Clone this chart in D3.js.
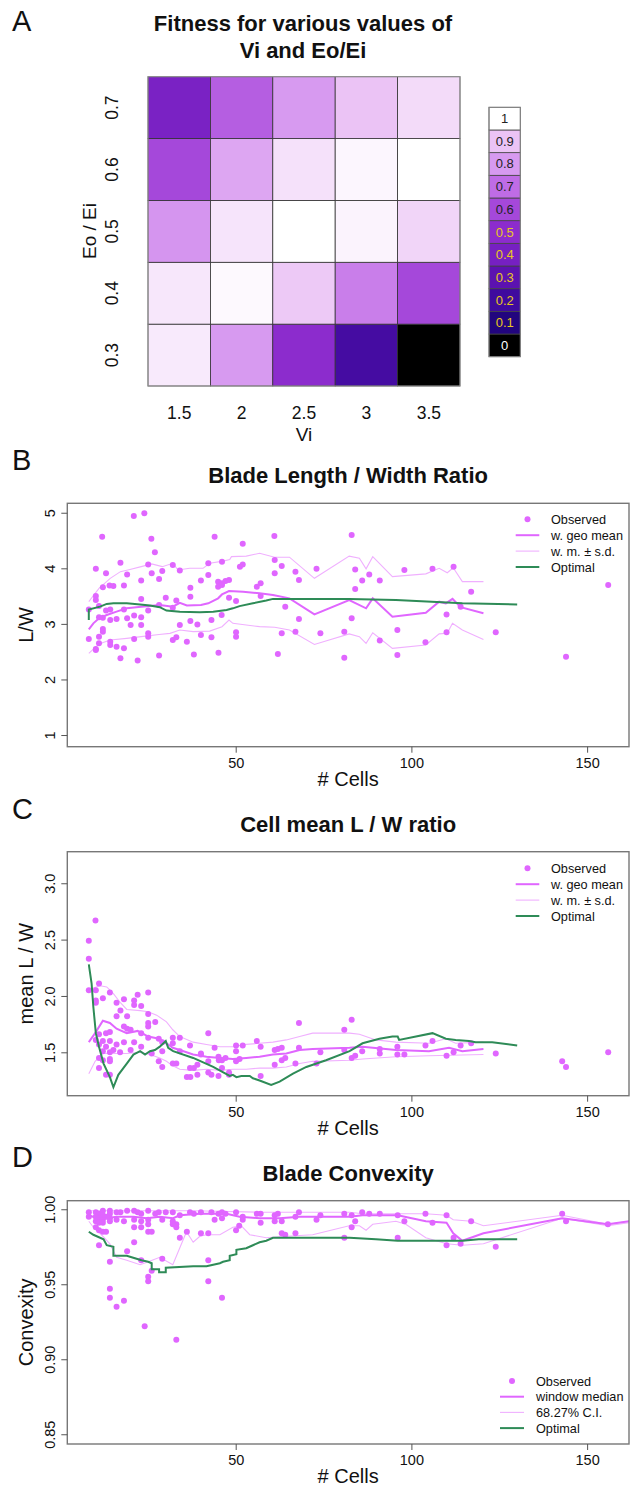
<!DOCTYPE html>
<html><head><meta charset="utf-8">
<script src="https://cdn.jsdelivr.net/npm/d3@7"></script>
<style>
body{margin:0;background:#fff}
svg{display:block}
text{font-family:"Liberation Sans",Arial,Helvetica,sans-serif;fill:#111}
</style>
</head><body>
<svg id="chart" width="630" height="1490"></svg>
<script>
// ---------------- Panel A data ----------------
const viLabels = ["1.5","2","2.5","3","3.5"];
const eoLabels = ["0.3","0.4","0.5","0.6","0.7"];
// fitness[eo index][vi index]
const fitness = [
  [0.965, 0.80, 0.50, 0.22, 0.00],   // Eo/Ei 0.3
  [0.96, 0.99, 0.91, 0.74, 0.60],    // 0.4
  [0.79, 0.955, 1.00, 0.98, 0.93],   // 0.5
  [0.60, 0.83, 0.95, 0.985, 1.00],   // 0.6
  [0.42, 0.66, 0.80, 0.90, 0.94]     // 0.7
];
const legendValues = [0,0.1,0.2,0.3,0.4,0.5,0.6,0.7,0.8,0.9,1];
const legendLabels = ["0","0.1","0.2","0.3","0.4","0.5","0.6","0.7","0.8","0.9","1"];
const legendColors = ["#000000","#22057e","#3f0a9e","#5c12b0","#7620c2","#8c2ccd","#a548da","#bf6ce6","#d79af0","#ebc3f5","#ffffff"];

// ---------------- Panel B data ----------------
const bObserved = [[21,4.94],[24,4.99],[12,4.57],[26,4.53],[44,4.57],[61,4.58],[52,4.44],[27,4.29],[17.2,4.10],[25.1,4.07],[10.2,3.99],[13.1,3.91],[19.1,3.89],[26.1,3.91],[29.1,3.95],[32.1,4.06],[34.1,3.96],[42.2,4.09],[46.1,4.12],[51.2,4.03],[52,4.07],[61.1,4.15],[63.1,4.04],[67,3.94],[73,3.99],[12.2,3.66],[14.1,3.69],[15.2,3.68],[18.2,3.69],[23.1,3.78],[28.2,3.81],[42.2,3.88],[40.1,3.78],[45,3.76],[46.1,3.73],[47.1,3.77],[48.1,3.79],[45,3.67],[46.1,3.70],[37.1,3.65],[57.1,3.73],[56,3.67],[61.1,3.91],[68,3.79],[10.2,3.50],[10.2,3.43],[23.1,3.45],[30.1,3.47],[33.1,3.42],[37.1,3.49],[57.1,3.50],[48.1,3.47],[50.1,3.41],[64.1,3.31],[8.2,3.26],[11.1,3.32],[13.1,3.24],[14.3,3.26],[18.2,3.26],[25.1,3.24],[28.2,3.34],[32.1,3.29],[46,3.16],[11.1,3.12],[12.2,3.11],[14.3,3.07],[16.1,3.09],[19.1,3.10],[21.1,3.15],[23.1,3.12],[20.1,2.98],[23.1,2.98],[34.1,2.98],[37.1,3.05],[39.1,2.99],[43.1,3.07],[68,3.09],[12.2,2.91],[12.2,2.86],[11.1,2.77],[8.2,2.73],[14.3,2.68],[14.3,2.62],[16.1,2.59],[10.2,2.55],[10.2,2.53],[11.1,2.65],[18.2,2.56],[21.1,2.73],[25.1,2.83],[25.1,2.77],[32.1,2.71],[33.1,2.76],[36.1,2.68],[40.1,2.80],[43.1,2.76],[50.1,2.85],[50.1,2.77],[63.1,2.83],[67,2.86],[74.1,2.83],[80.9,2.86],[17.2,2.38],[22.1,2.34],[28.2,2.43],[38.1,2.45],[45.1,2.48],[62,2.46],[80.9,2.39],[83,4.60],[84,3.98],[86,3.78],[88,3.89],[91,3.78],[98,3.97],[106,3.99],[112,4.03],[84,3.63],[117,3.58],[83,3.10],[114,3.31],[110,3.17],[96,2.89],[110,2.85],[91,2.70],[104,2.67],[124,2.85],[96,2.44],[144,2.41],[156,3.70]];
const bGeoMean = [[8.2,2.90],[9.5,3.01],[11.1,3.10],[13.3,3.16],[16.1,3.22],[19,3.28],[23.1,3.31],[28.4,3.34],[32.1,3.31],[34.1,3.38],[36.1,3.33],[40.1,3.34],[42.2,3.37],[45,3.46],[46.1,3.53],[48.1,3.59],[52.1,3.58],[56.8,3.55],[60.6,3.52],[65.3,3.46],[72.4,3.17],[82.3,3.43],[87.1,3.28],[89,3.46],[94.6,3.13],[104.1,3.20],[107.9,3.40],[109.8,3.37],[111.7,3.45],[114,3.30],[120.5,3.19]];
const bSdUpper = [[8.2,3.40],[11.1,3.64],[14.3,3.82],[17.2,3.94],[19.9,3.98],[23.1,4.03],[26.1,4.08],[29.1,4.03],[32.1,4.09],[33.6,3.97],[36.9,4.00],[40.7,4.00],[42.6,4.09],[46.4,4.13],[48.3,4.16],[48.8,4.21],[53,4.22],[56.8,4.27],[61.1,4.20],[65.3,4.20],[72.4,3.82],[82.3,4.22],[85.2,4.18],[87.1,3.99],[89,4.21],[94.6,3.85],[104.1,3.90],[107.9,4.00],[110.2,3.92],[111.9,4.01],[114.5,3.76],[120.5,3.76]];
const bSdLower = [[8.2,2.47],[11.1,2.64],[14.3,2.71],[19,2.74],[23.1,2.77],[28.2,2.81],[31.3,2.83],[34.1,2.89],[37.9,2.86],[42.6,2.87],[46.1,2.95],[48.1,3.07],[49.2,3.01],[53,2.98],[56.8,2.95],[61.1,2.94],[65.3,2.89],[72.4,2.63],[82.3,2.82],[85.2,2.77],[87.1,2.65],[89,2.84],[94.6,2.56],[104.1,2.62],[107.9,2.82],[110.2,2.83],[111.7,3.01],[114.5,2.89],[120.5,2.72]];
const bOptimal = [[8.2,3.07],[8.2,3.26],[11.4,3.31],[13.3,3.36],[15.2,3.37],[19,3.37],[22.8,3.35],[25.6,3.33],[28.4,3.30],[30.3,3.24],[34.1,3.22],[39.8,3.21],[43.6,3.22],[47.4,3.25],[49.2,3.28],[51.1,3.32],[54.9,3.37],[58.7,3.42],[60.6,3.45],[82.4,3.45],[95.6,3.43],[114.5,3.37],[130.1,3.35]];

// ---------------- Panel C data ----------------
const cObserved = [[10.1,2.67],[8.2,2.49],[8.2,2.33],[8.2,2.05],[11.1,2.11],[10.2,2.05],[10.2,1.96],[10.2,1.94],[12.2,1.98],[14.2,2.03],[18.2,1.97],[16.1,1.94],[22.1,2.01],[21.1,1.96],[21.1,1.92],[23.1,1.91],[25.1,2.03],[17.2,1.87],[16.1,1.82],[19.1,1.82],[18.2,1.73],[19.1,1.71],[20.1,1.70],[23.1,1.67],[25.1,1.84],[27.1,1.77],[25.1,1.76],[25.1,1.73],[11.1,1.66],[13.1,1.67],[14.2,1.68],[12.2,1.60],[14.2,1.60],[10.2,1.61],[11.1,1.57],[13.1,1.55],[15.2,1.52],[16.1,1.57],[18.2,1.59],[21.1,1.59],[25.1,1.63],[28.1,1.62],[29.1,1.59],[32.1,1.63],[34.1,1.63],[32.1,1.58],[12.2,1.51],[14.2,1.50],[17.1,1.50],[20.1,1.52],[23.1,1.55],[26.1,1.49],[29.1,1.51],[11.1,1.45],[12.2,1.43],[14.2,1.44],[14.2,1.42],[11.1,1.36],[13.1,1.30],[14.2,1.30],[28.1,1.42],[29.1,1.37],[32.1,1.40],[33.1,1.40],[37,1.56],[34.1,1.51],[40.1,1.48],[40.1,1.49],[42.2,1.67],[44,1.54],[45.1,1.46],[46.1,1.43],[47.1,1.45],[45.2,1.43],[42.2,1.42],[39.1,1.39],[37,1.36],[38.1,1.36],[36.1,1.28],[37.1,1.28],[39.1,1.30],[42.2,1.32],[43.1,1.30],[45.1,1.29],[46.1,1.36],[48.1,1.32],[48.1,1.30],[50.1,1.56],[50.1,1.51],[52,1.56],[50.1,1.42],[51.1,1.44],[56,1.60],[57.1,1.55],[57.1,1.29],[61.1,1.39],[61.1,1.52],[62,1.53],[63.1,1.54],[63.1,1.43],[64.1,1.45],[67,1.40],[68,1.54],[68,1.76],[74.1,1.50],[73,1.40],[80.9,1.70],[80.9,1.52],[83,1.79],[83,1.45],[84,1.47],[86,1.51],[91,1.53],[91,1.49],[96,1.55],[96,1.48],[98,1.48],[104,1.56],[106,1.60],[110,1.47],[112,1.50],[114,1.56],[117,1.58],[124,1.49],[142.9,1.42],[144,1.37],[156,1.50]];
const cGeoMean = [[8.2,1.59],[10,1.67],[12.2,1.78],[14.2,1.76],[16.1,1.71],[19,1.67],[22.1,1.69],[25.1,1.64],[28.2,1.62],[30.3,1.58],[32.1,1.54],[34.1,1.52],[37.9,1.48],[41.7,1.46],[45.5,1.45],[49.2,1.44],[53,1.45],[56.8,1.46],[60.6,1.48],[64.4,1.49],[68.2,1.52],[71.9,1.53],[82.4,1.54],[86.1,1.55],[95.6,1.52],[105,1.51],[110.7,1.54],[114.5,1.51],[120.5,1.53]];
const cSdUpper = [[8.2,2.04],[9.5,2.07],[11.4,2.09],[13.3,2.08],[15.2,2.02],[17.2,1.94],[19,1.88],[22.8,1.87],[25.1,1.86],[27.5,1.83],[30.3,1.77],[32.1,1.70],[34.1,1.64],[37.9,1.59],[41.7,1.57],[45.5,1.55],[49.2,1.55],[53,1.57],[56.8,1.58],[60.6,1.59],[64.4,1.61],[68.2,1.64],[71.9,1.67],[82.4,1.67],[85.2,1.66],[89.9,1.61],[95.6,1.59],[105,1.58],[109.8,1.62],[112.6,1.58],[120.5,1.59]];
const cSdLower = [[8.2,1.31],[10,1.42],[12.2,1.49],[14.2,1.49],[19,1.49],[22.8,1.50],[25.6,1.48],[28.4,1.45],[30.3,1.42],[32.1,1.38],[34.1,1.35],[37.9,1.34],[41.7,1.35],[45.5,1.34],[49.2,1.35],[53,1.35],[56.8,1.36],[60.6,1.36],[64.4,1.37],[68.2,1.40],[71.9,1.42],[82.4,1.43],[86.1,1.44],[95.6,1.46],[105,1.47],[120.5,1.48]];
const cOptimal = [[8.2,2.28],[9,2.11],[9.5,1.90],[10.2,1.67],[11.1,1.55],[12.4,1.40],[14.2,1.28],[15.2,1.19],[16.6,1.30],[19,1.40],[20.9,1.48],[22.8,1.51],[24.2,1.48],[25.6,1.51],[27,1.52],[28.4,1.55],[30.1,1.60],[30.8,1.54],[32.2,1.51],[37.9,1.45],[43.6,1.37],[48.3,1.29],[49.2,1.30],[50.2,1.28],[51.6,1.29],[54,1.29],[54.9,1.27],[56.8,1.25],[60.1,1.21],[62.5,1.24],[66.3,1.31],[70.1,1.37],[75.7,1.43],[82.4,1.51],[86.1,1.58],[90.9,1.62],[94.6,1.64],[96.1,1.64],[96.5,1.61],[101.3,1.64],[106,1.67],[109.8,1.62],[112.6,1.61],[116.4,1.60],[118.3,1.59],[123,1.59],[130.1,1.56]];

// ---------------- Panel D data ----------------
const dObserved = [[8.2,0.998],[8.2,0.995],[10.2,0.998],[11.1,0.997],[12.2,0.999],[12.2,0.996],[14.2,0.999],[14.2,0.997],[16.1,0.998],[17.2,0.998],[19.1,0.999],[21.1,0.999],[22.1,0.998],[23.1,0.997],[25.1,0.999],[27.1,0.997],[28.1,0.998],[30.1,0.998],[32.1,0.998],[34.1,0.996],[37,0.998],[38.1,0.997],[40.1,0.998],[43.1,0.998],[45.1,0.997],[46.1,0.998],[47.1,0.997],[50.1,0.998],[52,0.995],[56,0.997],[57.1,0.997],[61.1,0.996],[62,0.997],[68,0.998],[74.1,0.996],[80.9,0.997],[10.2,0.995],[11.1,0.994],[12.2,0.993],[13.1,0.995],[14.2,0.994],[14.2,0.992],[10.2,0.992],[11.1,0.991],[12.2,0.991],[16.1,0.993],[18.2,0.992],[21.1,0.993],[23.1,0.992],[25.1,0.993],[29.1,0.993],[32.1,0.992],[33.1,0.990],[44,0.993],[46.1,0.994],[52,0.993],[57.1,0.991],[61.1,0.992],[63.1,0.992],[67,0.995],[73,0.993],[10.2,0.988],[11.1,0.986],[12.2,0.985],[13.1,0.985],[21.1,0.988],[23.1,0.988],[25.1,0.990],[25.1,0.985],[26.1,0.985],[32.1,0.990],[33.1,0.988],[36.1,0.985],[40.1,0.984],[42.2,0.984],[50.1,0.986],[51,0.989],[34.1,0.981],[63.1,0.984],[64.1,0.983],[67,0.984],[80.9,0.981],[11.1,0.976],[19.1,0.972],[21.1,0.978],[14.2,0.965],[23.1,0.966],[29.1,0.967],[26.1,0.959],[25.1,0.955],[25.1,0.952],[42.2,0.966],[42.2,0.952],[14.2,0.947],[14.2,0.941],[18.2,0.939],[16.1,0.935],[46.1,0.941],[24.1,0.922],[33.1,0.913],[83,0.996],[86,0.998],[88,0.997],[91,0.997],[96.1,0.996],[104,0.997],[110,0.996],[84,0.992],[83,0.988],[98,0.992],[106,0.991],[117,0.992],[142.9,0.997],[144,0.992],[155.9,0.990],[96.1,0.981],[112,0.981],[110,0.976],[114,0.977],[124,0.975]];
const dMedian = [[8.2,0.996],[10.5,0.994],[13.3,0.994],[16.1,0.995],[20.9,0.995],[24.7,0.994],[28.4,0.995],[32.2,0.994],[34.1,0.996],[39.8,0.997],[47.4,0.997],[51.1,0.995],[56.8,0.994],[62.5,0.994],[68.2,0.995],[82.4,0.995],[86.1,0.996],[96.1,0.996],[104.1,0.992],[110,0.991],[111.9,0.984],[114.5,0.979],[120.5,0.984],[142.9,0.994],[155.9,0.990],[165,0.993]];
const dCiUpper = [[8.2,0.999],[19,0.999],[37.9,0.999],[56.8,0.998],[82.4,0.998],[86.1,0.997],[96.1,0.997],[104.1,0.997],[110,0.996],[111.9,0.993],[117,0.992],[120.5,0.989],[142.9,0.996],[155.9,0.990],[165,0.993]];
const dCiLower = [[8.2,0.992],[9.5,0.988],[11.4,0.984],[14.2,0.977],[16.1,0.968],[19,0.966],[22.8,0.963],[25.1,0.965],[28.4,0.968],[32.1,0.963],[36,0.985],[37.9,0.978],[39.8,0.982],[41.7,0.983],[45.5,0.983],[49.2,0.988],[51.6,0.989],[54,0.983],[58.7,0.981],[64.4,0.982],[71.9,0.983],[82.3,0.989],[85.2,0.989],[87.1,0.986],[89,0.990],[95.6,0.992],[98.4,0.990],[104.1,0.981],[110,0.977],[114.5,0.976],[120.5,0.977],[142.9,0.994],[155.9,0.989],[165,0.992]];
const dOptimal = [[8.2,0.985],[9.5,0.983],[12.4,0.980],[13.3,0.976],[15.2,0.975],[15.2,0.969],[19,0.969],[21.8,0.967],[23.2,0.966],[25.1,0.965],[26.1,0.964],[26.1,0.960],[28.2,0.960],[28.2,0.958],[30.1,0.958],[30.1,0.961],[37.9,0.962],[41.7,0.962],[45.5,0.964],[46.4,0.965],[48.3,0.966],[48.3,0.969],[50.2,0.970],[50.2,0.973],[53,0.974],[54.9,0.976],[56.8,0.978],[58.7,0.979],[60.6,0.981],[82.4,0.981],[89.9,0.980],[96.1,0.979],[114.5,0.979],[119.2,0.980],[130.1,0.980]];

const xTicks = [50,100,150];
const bTicks = [1,2,3,4,5];
const cTicks = [1.5,2.0,2.5,3.0];
const dTicks = [0.85,0.90,0.95,1.00];

// ---------------- drawing ----------------
const svg = d3.select("#chart");
const FONT = '"Liberation Sans",Arial,Helvetica,sans-serif';
const PT = "#e066ff", THIN = "#f0b0ff", GREEN = "#2e8b57";

function letter(t, y){
  svg.append("text").attr("x",12).attr("y",y).attr("font-size",29).text(t);
}

// Panel A
letter("A",31);
const hx = d3.scaleBand().domain(viLabels).range([148,460]);
const hy = d3.scaleBand().domain(eoLabels.slice().reverse()).range([76.7,386]);
const colorScale = d3.scaleLinear().domain(legendValues).range(legendColors).interpolate(d3.interpolateRgb);
svg.append("text").attr("x",303).attr("y",31).attr("text-anchor","middle").attr("font-size",22).attr("font-weight","bold").text("Fitness for various values of");
svg.append("text").attr("x",303).attr("y",57.5).attr("text-anchor","middle").attr("font-size",22).attr("font-weight","bold").text("Vi and Eo/Ei");
const cells = [];
eoLabels.forEach((e,i)=>viLabels.forEach((v,j)=>cells.push({e,v,f:fitness[i][j]})));
svg.append("g").selectAll("rect").data(cells).join("rect")
  .attr("x",d=>hx(d.v)).attr("y",d=>hy(d.e))
  .attr("width",hx.bandwidth()).attr("height",hy.bandwidth())
  .attr("fill",d=>colorScale(d.f)).attr("stroke","#333").attr("stroke-width",0.8);
svg.append("rect").attr("x",148).attr("y",76.7).attr("width",312).attr("height",309.3)
  .attr("fill","none").attr("stroke","#999").attr("stroke-width",1);
const gxA = svg.append("g").attr("transform","translate(0,386)")
  .call(d3.axisBottom(hx).tickSize(0).tickPadding(21));
gxA.select(".domain").remove();
gxA.selectAll("text").attr("font-size",17.5).attr("font-family",FONT).attr("fill","#222");
svg.append("text").attr("x",304).attr("y",441).attr("text-anchor","middle").attr("font-size",19).text("Vi");
const gyA = svg.append("g").attr("transform","translate(148,0)")
  .call(d3.axisLeft(hy).tickSize(0));
gyA.select(".domain").remove();
gyA.selectAll("text").attr("font-size",17.5).attr("font-family",FONT).attr("fill","#222")
  .attr("transform","rotate(-90)").attr("x",0).attr("y",-30).attr("dy",0).attr("text-anchor","middle");
svg.append("text").attr("transform","translate(96,231) rotate(-90)").attr("text-anchor","middle").attr("font-size",19).text("Eo / Ei");

// legend colour bar
const ly = d3.scaleBand().domain(legendLabels.slice().reverse()).range([107.3,356.7]);
const lg = svg.append("g");
lg.selectAll("rect").data(legendValues).join("rect")
  .attr("x",489).attr("y",(d,i)=>ly(legendLabels[i])).attr("width",31.3).attr("height",ly.bandwidth())
  .attr("fill",(d,i)=>legendColors[i]).attr("stroke","#444").attr("stroke-width",0.8);
lg.append("rect").attr("x",489).attr("y",107.3).attr("width",31.3).attr("height",249.4).attr("fill","none").attr("stroke","#888").attr("stroke-width",1);
lg.selectAll("text").data(legendValues).join("text")
  .attr("x",504.7).attr("y",(d,i)=>ly(legendLabels[i])+ly.bandwidth()/2+4.5)
  .attr("text-anchor","middle").attr("font-size",13)
  .style("fill",d=>d===0?"#ffffff":(d<=0.5?"#e8c81c":"#222"))
  .text((d,i)=>legendLabels[i]);

// Scatter panels
const X0=67.3, X1=629;
const xScale = d3.scaleLinear().domain([2.08,161.92]).range([X0,X1]);

function panel(cfg){
  const y = d3.scaleLinear().domain(cfg.ydom).range([cfg.bottom,cfg.top]);
  const g = svg.append("g");
  letter(cfg.letter, cfg.letterY);
  g.append("text").attr("x",(X0+X1)/2).attr("y",cfg.top-20).attr("text-anchor","middle")
    .attr("font-size",22).attr("font-weight","bold").text(cfg.title);
  const clipId = "clip"+cfg.letter;
  svg.append("clipPath").attr("id",clipId).append("rect")
    .attr("x",X0).attr("y",cfg.top).attr("width",X1-X0).attr("height",cfg.bottom-cfg.top);
  const plot = g.append("g").attr("clip-path",`url(#${clipId})`);
  const line = d3.line().x(d=>xScale(d[0])).y(d=>y(d[1]));
  plot.append("path").datum(cfg.up).attr("d",line).attr("fill","none").attr("stroke",THIN).attr("stroke-width",1.1);
  plot.append("path").datum(cfg.lo).attr("d",line).attr("fill","none").attr("stroke",THIN).attr("stroke-width",1.1);
  plot.selectAll("circle").data(cfg.obs).join("circle")
    .attr("cx",d=>xScale(d[0])).attr("cy",d=>y(d[1])).attr("r",3).attr("fill",PT);
  plot.append("path").datum(cfg.mid).attr("d",line).attr("fill","none").attr("stroke",PT).attr("stroke-width",2);
  plot.append("path").datum(cfg.opt).attr("d",line).attr("fill","none").attr("stroke",GREEN).attr("stroke-width",2);
  // frame
  g.append("rect").attr("x",X0).attr("y",cfg.top).attr("width",X1-X0).attr("height",cfg.bottom-cfg.top)
    .attr("fill","none").attr("stroke","#777").attr("stroke-width",1.4);
  // x axis
  const gx = g.append("g").attr("transform",`translate(0,${cfg.bottom})`)
    .call(d3.axisBottom(xScale).tickValues(xTicks).tickSize(6).tickPadding(5).tickFormat(d3.format("d")));
  gx.select(".domain").remove();
  gx.selectAll("line").attr("stroke","#555");
  gx.selectAll("text").attr("font-size",14.5).attr("font-family",FONT).attr("fill","#222");
  g.append("text").attr("x",(X0+X1)/2).attr("y",cfg.bottom+39).attr("text-anchor","middle").attr("font-size",20).text("# Cells");
  // y axis
  const gy = g.append("g").attr("transform",`translate(${X0},0)`)
    .call(d3.axisLeft(y).tickValues(cfg.yticks).tickSize(6).tickFormat(d3.format(cfg.yfmt)));
  gy.select(".domain").remove();
  gy.selectAll("line").attr("stroke","#555");
  gy.selectAll("text").attr("font-size",14.5).attr("font-family",FONT).attr("fill","#222")
    .attr("transform","rotate(-90)").attr("x",0).attr("y",-12.3).attr("dy",0).attr("text-anchor","middle");
  g.append("text").attr("transform",`translate(33,${(cfg.top+cfg.bottom)/2}) rotate(-90)`)
    .attr("text-anchor","middle").attr("font-size",20).text(cfg.ylab);
  // legend
  const L = cfg.leg;
  const lgd = g.append("g");
  cfg.legLabels.forEach((t,i)=>{
    const yy = L.y + i*L.dy;
    if(i===0) lgd.append("circle").attr("cx",(L.l0+L.l1)/2).attr("cy",yy).attr("r",3).attr("fill",PT);
    else lgd.append("line").attr("x1",L.l0).attr("x2",L.l1).attr("y1",yy).attr("y2",yy)
      .attr("stroke",i===1?PT:(i===2?THIN:GREEN)).attr("stroke-width",i===2?1.1:2);
    lgd.append("text").attr("x",L.tx).attr("y",yy+4.6).attr("font-size",12.7).attr("fill","#222").text(t);
  });
}

panel({letter:"B",letterY:470,title:"Blade Length / Width Ratio",ylab:"L/W",
  ydom:[0.79,5.17],top:503.3,bottom:746.7,yticks:bTicks,yfmt:"d",
  obs:bObserved,mid:bGeoMean,up:bSdUpper,lo:bSdLower,opt:bOptimal,
  legLabels:["Observed","w. geo mean","w. m. \u00b1 s.d.","Optimal"],
  leg:{y:519.3,dy:15.9,l0:515.7,l1:539.3,tx:551}});

panel({letter:"C",letterY:819,title:"Cell mean L / W ratio",ylab:"mean L / W",
  ydom:[1.115,3.28],top:851.7,bottom:1095.7,yticks:cTicks,yfmt:".1f",
  obs:cObserved,mid:cGeoMean,up:cSdUpper,lo:cSdLower,opt:cOptimal,
  legLabels:["Observed","w. geo mean","w. m. \u00b1 s.d.","Optimal"],
  leg:{y:868.3,dy:15.9,l0:515.7,l1:539.3,tx:551}});

panel({letter:"D",letterY:1167,title:"Blade Convexity",ylab:"Convexity",
  ydom:[0.8435,1.0057],top:1200.7,bottom:1444,yticks:dTicks,yfmt:".2f",
  obs:dObserved,mid:dMedian,up:dCiUpper,lo:dCiLower,opt:dOptimal,
  legLabels:["Observed","window median","68.27% C.I.","Optimal"],
  leg:{y:1381,dy:15.7,l0:500,l1:524,tx:536}});
</script>
</body></html>
